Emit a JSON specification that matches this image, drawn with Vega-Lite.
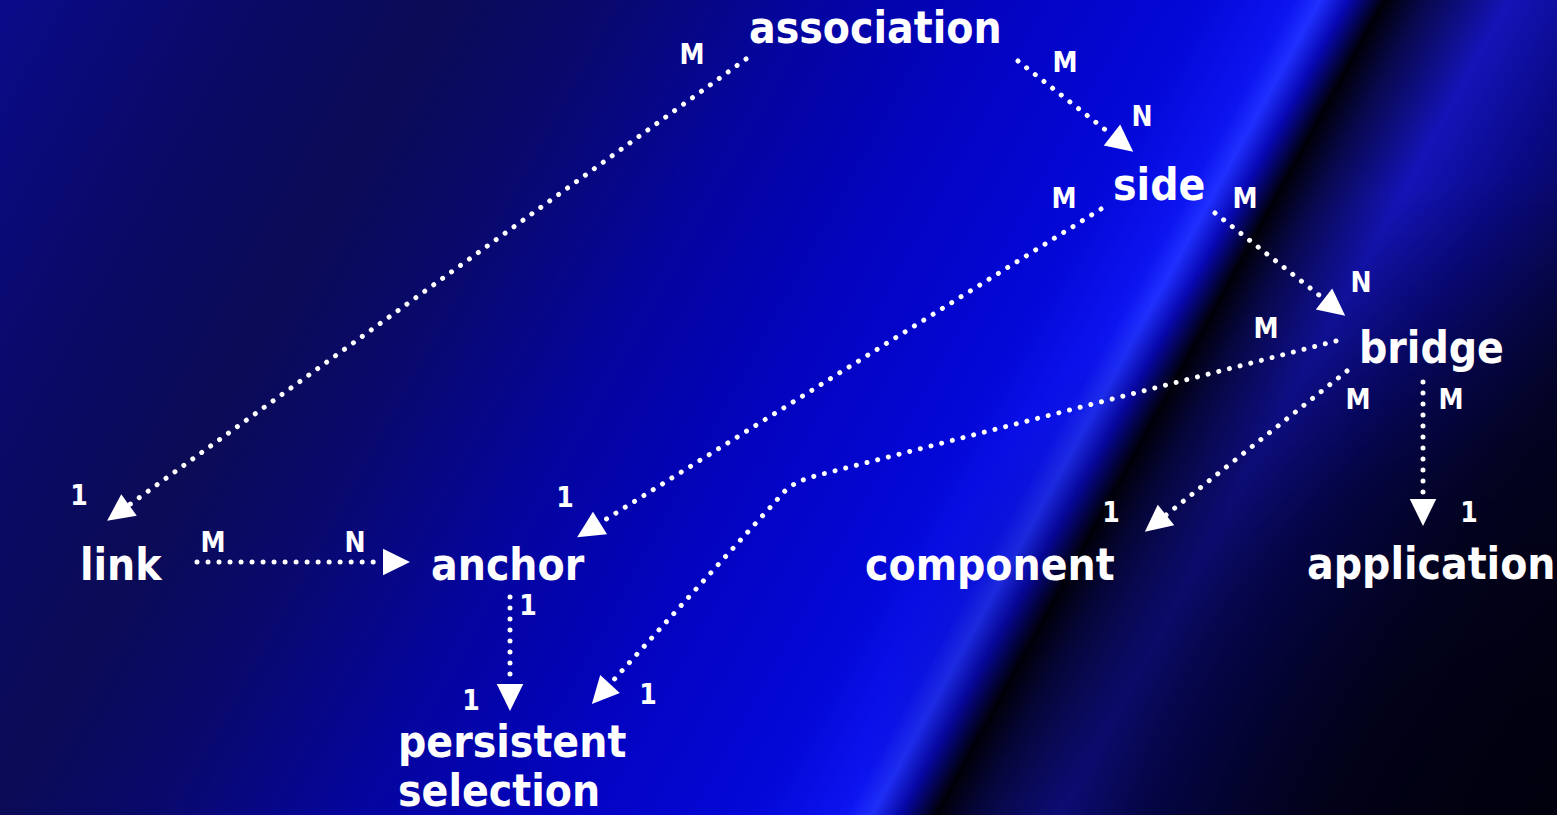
{
  "$schema": "https://vega.github.io/schema/vega-lite/v6.json",
  "width": 1557,
  "height": 815,
  "autosize": {"type": "none"},
  "padding": 0,
  "background": "#06063a",
  "config": {"view": {"stroke": null}},
  "datasets": {
    "edges": [
      {"id": "association-link", "ord": 0, "x": 746, "y": 59},
      {"id": "association-link", "ord": 1, "x": 129, "y": 505},
      {"id": "association-side", "ord": 0, "x": 1018, "y": 61},
      {"id": "association-side", "ord": 1, "x": 1112, "y": 135},
      {"id": "side-anchor", "ord": 0, "x": 1101, "y": 209},
      {"id": "side-anchor", "ord": 1, "x": 600, "y": 523},
      {"id": "side-bridge", "ord": 0, "x": 1215, "y": 213},
      {"id": "side-bridge", "ord": 1, "x": 1324, "y": 299},
      {"id": "bridge-persistent", "ord": 0, "x": 1336, "y": 341},
      {"id": "bridge-persistent", "ord": 1, "x": 815, "y": 476},
      {"id": "bridge-persistent", "ord": 2, "x": 797, "y": 482},
      {"id": "bridge-persistent", "ord": 3, "x": 785, "y": 491},
      {"id": "bridge-persistent", "ord": 4, "x": 610, "y": 684},
      {"id": "bridge-component", "ord": 0, "x": 1347, "y": 371},
      {"id": "bridge-component", "ord": 1, "x": 1166, "y": 515},
      {"id": "bridge-application", "ord": 0, "x": 1423, "y": 382},
      {"id": "bridge-application", "ord": 1, "x": 1423, "y": 499},
      {"id": "link-anchor", "ord": 0, "x": 197, "y": 562},
      {"id": "link-anchor", "ord": 1, "x": 383, "y": 562},
      {"id": "anchor-persistent", "ord": 0, "x": 510, "y": 597},
      {"id": "anchor-persistent", "ord": 1, "x": 510, "y": 684}
    ],
    "nodes": [
      {"name": "association", "x": 749, "y": 43},
      {"name": "side", "x": 1113, "y": 200},
      {"name": "bridge", "x": 1359, "y": 363},
      {"name": "link", "x": 80, "y": 580},
      {"name": "anchor", "x": 431, "y": 580},
      {"name": "component", "x": 865, "y": 580},
      {"name": "application", "x": 1307, "y": 579},
      {"name": "persistent", "x": 398, "y": 757},
      {"name": "selection", "x": 398, "y": 806}
    ],
    "ends": [
      {"label": "M", "x": 692, "y": 64},
      {"label": "M", "x": 1065, "y": 72},
      {"label": "N", "x": 1142, "y": 126},
      {"label": "M", "x": 1064, "y": 208},
      {"label": "M", "x": 1245, "y": 208},
      {"label": "N", "x": 1361, "y": 292},
      {"label": "M", "x": 1266, "y": 338},
      {"label": "M", "x": 1358, "y": 409},
      {"label": "M", "x": 1451, "y": 409},
      {"label": "1", "x": 79, "y": 505},
      {"label": "1", "x": 565, "y": 507},
      {"label": "1", "x": 1111, "y": 522},
      {"label": "1", "x": 1469, "y": 522},
      {"label": "M", "x": 213, "y": 552},
      {"label": "N", "x": 355, "y": 552},
      {"label": "1", "x": 528, "y": 615},
      {"label": "1", "x": 471, "y": 710},
      {"label": "1", "x": 648, "y": 704}
    ]
  },
  "layer": [
    {
      "data": {"values": [{}]},
      "mark": {
        "type": "rect",
        "strokeWidth": 0,
        "fill": {
          "gradient": "linear",
          "x1": 0, "y1": 0, "x2": 1.19, "y2": 0.3426,
          "stops": [
            {"offset": 0.0, "color": "#0b0b8a"},
            {"offset": 0.12, "color": "#0a0a68"},
            {"offset": 0.22, "color": "#0b0b56"},
            {"offset": 0.30, "color": "#09096c"},
            {"offset": 0.40, "color": "#05059e"},
            {"offset": 0.50, "color": "#0303c0"},
            {"offset": 0.60, "color": "#0408d8"},
            {"offset": 0.645, "color": "#0c14f0"},
            {"offset": 0.658, "color": "#2030ff"},
            {"offset": 0.672, "color": "#0808b4"},
            {"offset": 0.69, "color": "#000008"},
            {"offset": 0.71, "color": "#08084c"},
            {"offset": 0.752, "color": "#1414b8"},
            {"offset": 0.80, "color": "#0a0a88"},
            {"offset": 0.88, "color": "#06063a"},
            {"offset": 1.0, "color": "#040010"}
          ]
        }
      },
      "encoding": {
        "x": {"datum": 0, "type": "quantitative", "scale": {"domain": [0, 1557], "nice": false, "zero": false}, "axis": null},
        "x2": {"datum": 1557},
        "y": {"datum": 0, "type": "quantitative", "scale": {"domain": [0, 815], "reverse": true, "nice": false, "zero": false}, "axis": null},
        "y2": {"datum": 815}
      }
    },
    {
      "data": {"values": [{}]},
      "mark": {
        "type": "rect",
        "strokeWidth": 0,
        "fill": {
          "gradient": "radial",
          "x1": 1.0, "y1": 0.8, "r1": 0,
          "x2": 1.0, "y2": 0.8, "r2": 0.45,
          "stops": [
            {"offset": 0, "color": "rgba(0,0,12,0.9)"},
            {"offset": 0.6, "color": "rgba(0,0,12,0.55)"},
            {"offset": 1, "color": "rgba(0,0,12,0)"}
          ]
        }
      },
      "encoding": {
        "x": {"datum": 0, "type": "quantitative", "scale": {"domain": [0, 1557], "nice": false, "zero": false}, "axis": null},
        "x2": {"datum": 1557},
        "y": {"datum": 0, "type": "quantitative", "scale": {"domain": [0, 815], "reverse": true, "nice": false, "zero": false}, "axis": null},
        "y2": {"datum": 815}
      }
    },
    {
      "data": {"name": "edges"},
      "mark": {"type": "line", "color": "white", "strokeWidth": 5, "strokeCap": "round", "strokeDash": [0.01, 11]},
      "encoding": {
        "x": {"field": "x", "type": "quantitative", "scale": {"domain": [0, 1557], "nice": false, "zero": false}, "axis": null},
        "y": {"field": "y", "type": "quantitative", "scale": {"domain": [0, 815], "reverse": true, "nice": false, "zero": false}, "axis": null},
        "detail": {"field": "id"},
        "order": {"field": "ord", "type": "quantitative"}
      }
    },
    {
      "data": {"name": "edges"},
      "transform": [
        {"window": [{"op": "lag", "field": "x", "as": "px"}, {"op": "lag", "field": "y", "as": "py"}], "groupby": ["id"], "sort": [{"field": "ord"}]},
        {"joinaggregate": [{"op": "max", "field": "ord", "as": "last"}], "groupby": ["id"]},
        {"filter": "datum.ord == datum.last"},
        {"calculate": "atan2(datum.x - datum.px, datum.py - datum.y) * 180 / PI", "as": "ang"}
      ],
      "mark": {"type": "point", "filled": true, "color": "white", "opacity": 1, "size": 729, "shape": "M-0.98,0L0,-2L0.98,0Z"},
      "encoding": {
        "x": {"field": "x", "type": "quantitative", "scale": {"domain": [0, 1557], "nice": false, "zero": false}, "axis": null},
        "y": {"field": "y", "type": "quantitative", "scale": {"domain": [0, 815], "reverse": true, "nice": false, "zero": false}, "axis": null},
        "angle": {"field": "ang", "type": "quantitative", "scale": null}
      }
    },
    {
      "data": {"name": "nodes"},
      "mark": {"type": "text", "font": "DejaVu Sans Condensed", "fontWeight": "bold", "fontSize": 44, "align": "left", "baseline": "alphabetic", "color": "white"},
      "encoding": {
        "x": {"field": "x", "type": "quantitative", "scale": {"domain": [0, 1557], "nice": false, "zero": false}, "axis": null},
        "y": {"field": "y", "type": "quantitative", "scale": {"domain": [0, 815], "reverse": true, "nice": false, "zero": false}, "axis": null},
        "text": {"field": "name"}
      }
    },
    {
      "data": {"name": "ends"},
      "mark": {"type": "text", "font": "DejaVu Sans Condensed", "fontWeight": "bold", "fontSize": 28, "align": "center", "baseline": "alphabetic", "color": "white"},
      "encoding": {
        "x": {"field": "x", "type": "quantitative", "scale": {"domain": [0, 1557], "nice": false, "zero": false}, "axis": null},
        "y": {"field": "y", "type": "quantitative", "scale": {"domain": [0, 815], "reverse": true, "nice": false, "zero": false}, "axis": null},
        "text": {"field": "label"}
      }
    }
  ]
}
